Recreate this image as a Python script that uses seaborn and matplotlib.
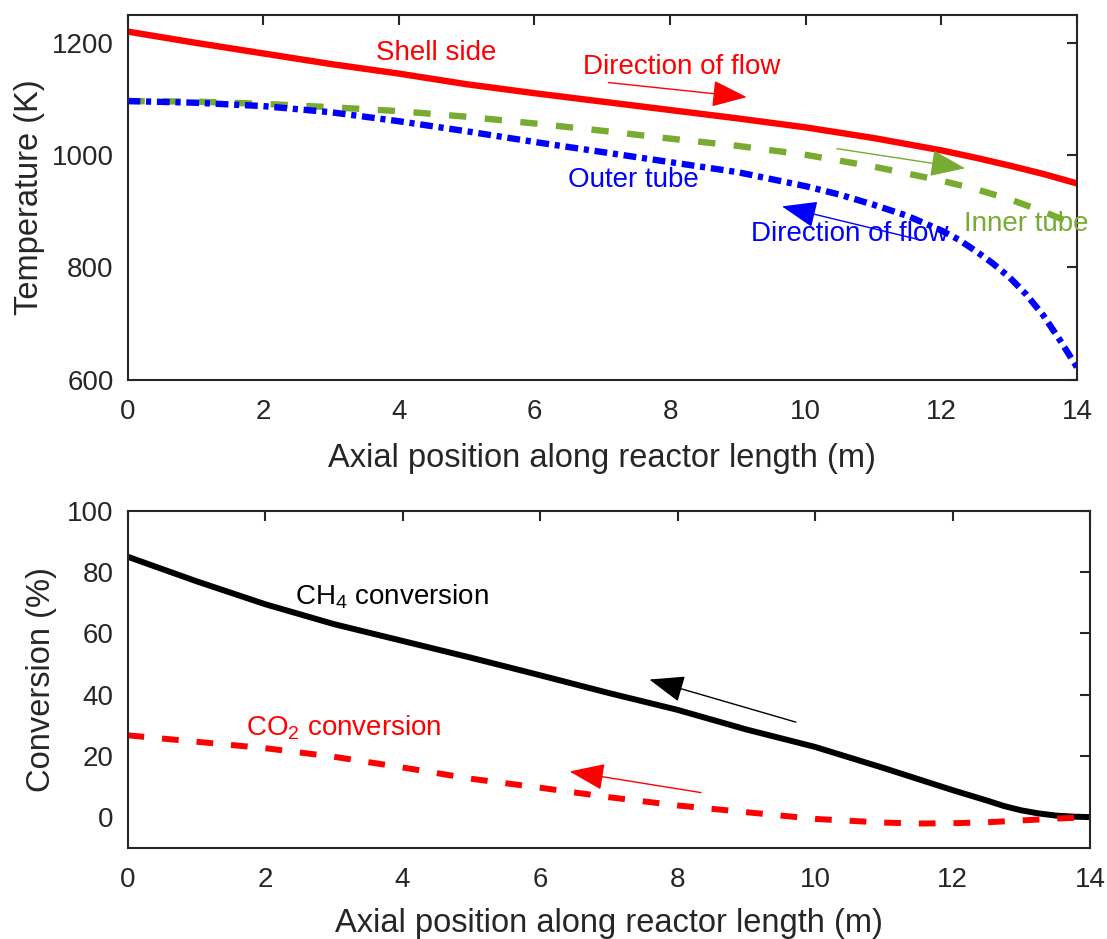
import pandas as pd
import matplotlib
matplotlib.use("Agg")
import matplotlib.pyplot as plt
import seaborn as sns

# --- datos ---
x_shell = [0, 1, 2, 3, 4, 5, 6, 7, 8, 9, 10, 11, 12, 12.5, 13, 13.5, 14]
t_shell = [1221, 1201, 1182, 1163, 1146, 1127, 1111, 1096, 1081, 1066, 1050, 1031, 1009, 996, 982, 967, 950]

x_inner = [0, 1, 2, 3, 4, 5, 6, 7, 8, 9, 10, 11, 12, 12.5, 13, 13.5, 14]
t_inner = [1097, 1096, 1092, 1086, 1079, 1069, 1057, 1044, 1030, 1017, 1001, 980, 955, 940, 922, 900, 875]

x_outer = [0, 1, 2, 3, 4, 5, 6, 7, 8, 9, 10, 10.5, 11, 11.5, 12, 12.25, 12.5, 12.75,
           13, 13.25, 13.5, 13.75, 14]
t_outer = [1097, 1094, 1088, 1077, 1061, 1043, 1024, 1006, 988, 970, 945, 930, 912, 892, 866,
           850, 830, 808, 783, 752, 715, 670, 622]

x_ch4 = [0, 1, 2, 3, 4, 5, 6, 7, 8, 9, 10, 11, 12, 12.5, 12.75, 13, 13.25, 13.5, 13.75, 14]
c_ch4 = [85, 77, 69.5, 63, 57.5, 52, 46.3, 40.5, 35, 28.6, 22.9, 16, 8.8, 5.4, 3.6, 2.2, 1.2, 0.5, 0.15, 0]

x_co2 = [0, 1, 2, 3, 4, 5, 6, 7, 8, 9, 10, 11, 11.5, 12, 12.5, 13, 13.5, 14]
c_co2 = [26.7, 24.6, 22.5, 19.7, 16.2, 12.5, 9.6, 6.5, 3.8, 1.6, -0.6, -1.8, -2.1, -2.0, -1.7, -1.1, -0.5, 0]

x_ticks = [0, 2, 4, 6, 8, 10, 12, 14]
t_ticks = [600, 800, 1000, 1200]
c_ticks = [0, 20, 40, 60, 80, 100]

ROJO = "#FF0000"
AZUL = "#0000FF"
VERDE = "#77AC30"
GRIS = "#262626"

sns.set_style("white")
plt.rcParams["font.family"] = ["Liberation Sans", "DejaVu Sans"]
plt.rcParams["mathtext.fontset"] = "custom"
plt.rcParams["mathtext.rm"] = "Liberation Sans"
plt.rcParams["mathtext.it"] = "Liberation Sans:italic"
plt.rcParams["mathtext.bf"] = "Liberation Sans:bold"

fig = plt.figure(figsize=(11.07, 9.39), dpi=100)
ax1 = fig.add_axes([0.1152, 0.5958, 0.8577, 0.3879])
ax2 = fig.add_axes([0.1152, 0.0972, 0.8695, 0.3589])

LW = 4.6
df_shell = pd.DataFrame({"x": x_shell, "y": t_shell})
df_inner = pd.DataFrame({"x": x_inner, "y": t_inner})
df_outer = pd.DataFrame({"x": x_outer, "y": t_outer})
sns.lineplot(data=df_shell, x="x", y="y", ax=ax1, color=ROJO, lw=LW, sort=False, estimator=None)
sns.lineplot(data=df_inner, x="x", y="y", ax=ax1, color=VERDE, lw=LW, sort=False, estimator=None,
             linestyle=(0, (2.7, 2.9)))
sns.lineplot(data=df_outer, x="x", y="y", ax=ax1, color=AZUL, lw=LW, sort=False, estimator=None,
             linestyle=(0, (2.0, 0.9, 0.8, 0.9)))

df_ch4 = pd.DataFrame({"x": x_ch4, "y": c_ch4})
df_co2 = pd.DataFrame({"x": x_co2, "y": c_co2})
sns.lineplot(data=df_ch4, x="x", y="y", ax=ax2, color="black", lw=4.3, sort=False, estimator=None)
sns.lineplot(data=df_co2, x="x", y="y", ax=ax2, color=ROJO, lw=4.3, sort=False, estimator=None,
             linestyle=(0, (2.8, 3.0)))

for ax in (ax1, ax2):
    ax.set_xlim(0, 14)
    ax.set_xticks(x_ticks)
    ax.tick_params(direction="in", top=True, right=True, length=7.5, width=1.5,
                   labelsize=20, colors=GRIS, labelcolor=GRIS)
    ax.tick_params(axis="x", pad=14)
    ax.tick_params(axis="y", pad=10)
    for s in ax.spines.values():
        s.set_color(GRIS)
        s.set_linewidth(1.5)

ax1.set_ylim(600, 1250)
ax1.set_yticks(t_ticks)
ax2.set_ylim(-10, 100)
ax2.set_yticks(c_ticks)

ax1.set_xlabel("Axial position along reactor length (m)", fontsize=23.5, color=GRIS, va="center")
ax1.set_ylabel("Temperature (K)", fontsize=23.5, color=GRIS, va="center")
ax2.set_xlabel("Axial position along reactor length (m)", fontsize=23.5, color=GRIS, va="center")
ax2.set_ylabel("Conversion (%)", fontsize=23.5, color=GRIS, va="center")
ax1.xaxis.set_label_coords(0.5, -0.218)
ax1.yaxis.set_label_coords(-0.1035, 0.5)
ax2.xaxis.set_label_coords(0.5, -0.225)
ax2.yaxis.set_label_coords(-0.0895, 0.5)


def flecha(ax, ini, fin, color):
    ax.annotate("", xy=fin, xytext=ini, xycoords="data",
                arrowprops=dict(arrowstyle="-|>,head_length=1.1,head_width=0.42",
                                mutation_scale=20, color=color, lw=1.0,
                                shrinkA=0, shrinkB=0))


# anotaciones panel superior
ax1.text(3.66, 1170, "Shell side", color=ROJO, fontsize=20)
ax1.text(6.72, 1146, "Direction of flow", color=ROJO, fontsize=20)
flecha(ax1, (7.09, 1130), (9.13, 1104), ROJO)
ax1.text(6.5, 944, "Outer tube", color=AZUL, fontsize=20)
flecha(ax1, (10.46, 1012), (12.35, 977), VERDE)
ax1.text(12.33, 865, "Inner tube", color=VERDE, fontsize=20)
flecha(ax1, (11.66, 850), (9.65, 909), AZUL)
ax1.text(9.2, 847, "Direction of flow", color=AZUL, fontsize=20)

# anotaciones panel inferior
ax2.text(2.44, 69.4, "CH$_4$ conversion", color="black", fontsize=20)
flecha(ax2, (9.72, 31.0), (7.59, 44.9), "black")
ax2.text(1.73, 26.7, "CO$_2$ conversion", color=ROJO, fontsize=20)
flecha(ax2, (8.34, 8.0), (6.43, 14.9), ROJO)

fig.savefig("out.png", dpi=100)
